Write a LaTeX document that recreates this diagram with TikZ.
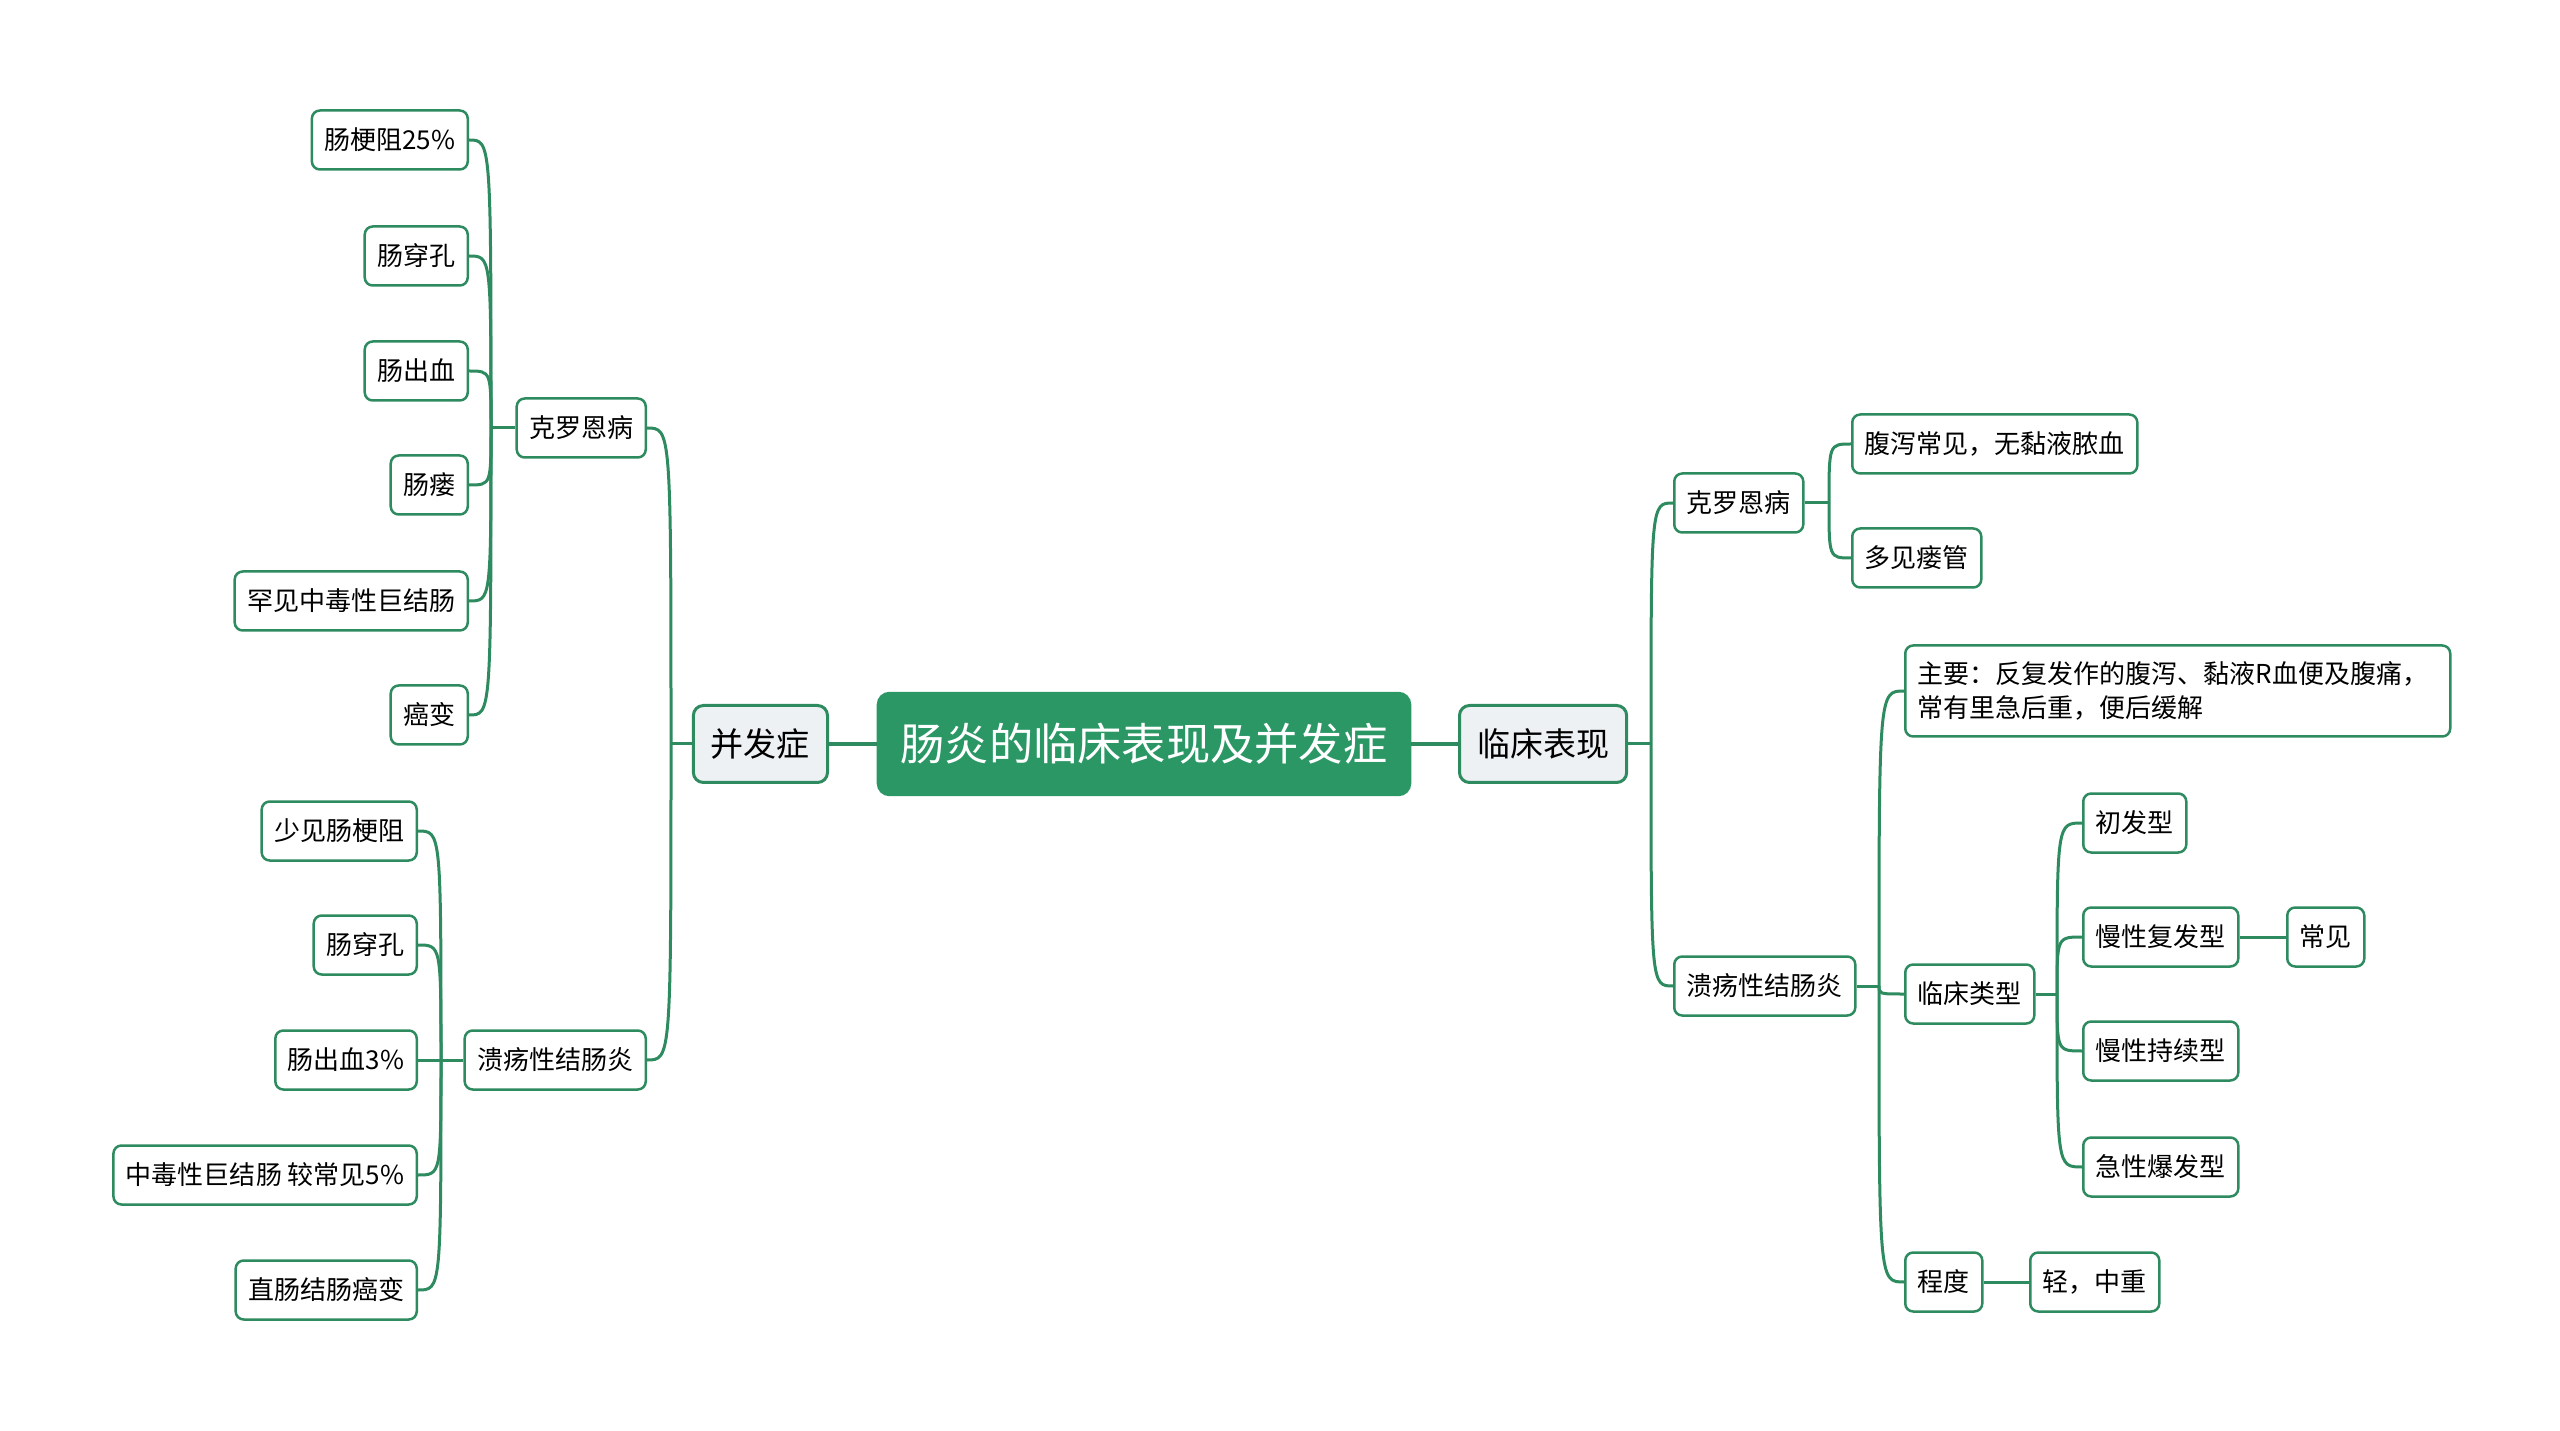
\documentclass[tikz,border=0pt]{standalone}
\usepackage{fontspec}
\setmainfont{Noto Sans CJK SC}
\usetikzlibrary{positioning}
\definecolor{mapgreen}{HTML}{2E8B5F}
\definecolor{rootgreen}{HTML}{2A9765}
\definecolor{topicgray}{HTML}{EEF1F4}

\begin{document}
\begin{tikzpicture}[x=0.1mm, y=-0.1mm,
   root/.style={draw=rootgreen, fill=rootgreen, text=white, rounded corners=1.2mm,
                minimum height=10.3mm, inner xsep=2.3mm, font=\fontsize{12.6}{15}\selectfont},
   topic/.style={draw=mapgreen, line width=0.3mm, fill=topicgray, rounded corners=1mm,
                 minimum height=7.7mm, inner xsep=1.75mm, font=\fontsize{9.4}{11}\selectfont},
   leaf/.style={draw=mapgreen, line width=0.25mm, fill=white, rounded corners=0.8mm,
                minimum height=5.9mm, inner xsep=1.25mm, font=\fontsize{7.4}{9.7}\selectfont},
   bond/.style={draw=mapgreen, line width=0.4mm},
   link/.style={draw=mapgreen, line width=0.3mm}]
  \useasboundingbox (0,0) rectangle (2560,1431);

  \node[root] (root) at (1144,744) {肠炎的临床表现及并发症};
  \node[topic, anchor=east] (bfz) at (829,744) {并发症};
  \node[topic, anchor=west] (lcbx) at (1458,744) {临床表现};

  % left: complications
  \node[leaf, anchor=east] (kl) at (647,428) {克罗恩病};
  \node[leaf, anchor=east] (kl1) at (469,140) {肠梗阻25\%};
  \node[leaf, anchor=east] (kl2) at (469,256) {肠穿孔};
  \node[leaf, anchor=east] (kl3) at (469,371) {肠出血};
  \node[leaf, anchor=east] (kl4) at (469,485) {肠瘘};
  \node[leaf, anchor=east] (kl5) at (469,601) {罕见中毒性巨结肠};
  \node[leaf, anchor=east] (kl6) at (469,715) {癌变};
  \node[leaf, anchor=east] (ul) at (647,1060) {溃疡性结肠炎};
  \node[leaf, anchor=east] (ul1) at (418,831) {少见肠梗阻};
  \node[leaf, anchor=east] (ul2) at (418,945) {肠穿孔};
  \node[leaf, anchor=east] (ul3) at (418,1060) {肠出血3\%};
  \node[leaf, anchor=east] (ul4) at (418,1175) {中毒性巨结肠 较常见5\%};
  \node[leaf, anchor=east] (ul5) at (418,1290) {直肠结肠癌变};

  % right: clinical signs
  \node[leaf, anchor=west] (kr) at (1673,503) {克罗恩病};
  \node[leaf, anchor=west] (kr1) at (1851,444) {腹泻常见，无黏液脓血};
  \node[leaf, anchor=west] (kr2) at (1851,558) {多见瘘管};
  \node[leaf, anchor=west] (ur) at (1673,986) {溃疡性结肠炎};
  \node[leaf, anchor=west, text width=52mm, align=left, minimum height=9.1mm] (ur1) at (1904,691)
    {主要：反复发作的腹泻、黏液R血便及腹痛，\\常有里急后重，便后缓解};
  \node[leaf, anchor=west] (ur2) at (1904,994) {临床类型};
  \node[leaf, anchor=west] (ur3) at (1904,1282) {程度};
  \node[leaf, anchor=west] (lx1) at (2082,823) {初发型};
  \node[leaf, anchor=west] (lx2) at (2082,937) {慢性复发型};
  \node[leaf, anchor=west] (lx3) at (2082,1051) {慢性持续型};
  \node[leaf, anchor=west] (lx4) at (2082,1167) {急性爆发型};
  \node[leaf, anchor=west] (cj) at (2286,937) {常见};
  \node[leaf, anchor=west] (qz) at (2029,1282) {轻，中重};

  \coordinate (bfz-t) at (671,744);
  \coordinate (lcbx-t) at (1651,744);
  \coordinate (kl-t) at (491,428);
  \coordinate (ul-t) at (441,1060);
  \coordinate (kr-t) at (1829,503);
  \coordinate (ur-t) at (1879,986);
  \coordinate (ur2-t) at (2057,994);

  \draw[bond] (root) -- (bfz);
  \draw[bond] (root) -- (lcbx);

  \draw[link] (bfz.west) -- (bfz-t);
  \foreach \c in {kl,ul}
    \draw[link] (bfz-t) .. controls (bfz-t |- \c.east) .. (\c.east);
  \draw[link] (kl.west) -- (kl-t);
  \foreach \c in {kl1,kl2,kl3,kl4,kl5,kl6}
    \draw[link] (kl-t) .. controls (kl-t |- \c.east) .. (\c.east);
  \draw[link] (ul.west) -- (ul-t);
  \foreach \c in {ul1,ul2,ul3,ul4,ul5}
    \draw[link] (ul-t) .. controls (ul-t |- \c.east) .. (\c.east);

  \draw[link] (lcbx.east) -- (lcbx-t);
  \foreach \c in {kr,ur}
    \draw[link] (lcbx-t) .. controls (lcbx-t |- \c.west) .. (\c.west);
  \draw[link] (kr.east) -- (kr-t);
  \foreach \c in {kr1,kr2}
    \draw[link] (kr-t) .. controls (kr-t |- \c.west) .. (\c.west);
  \draw[link] (ur.east) -- (ur-t);
  \foreach \c in {ur1,ur2,ur3}
    \draw[link] (ur-t) .. controls (ur-t |- \c.west) .. (\c.west);
  \draw[link] (ur2.east) -- (ur2-t);
  \foreach \c in {lx1,lx2,lx3,lx4}
    \draw[link] (ur2-t) .. controls (ur2-t |- \c.west) .. (\c.west);
  \draw[link] (lx2) -- (cj);
  \draw[link] (ur3) -- (qz);
\end{tikzpicture}
\end{document}
